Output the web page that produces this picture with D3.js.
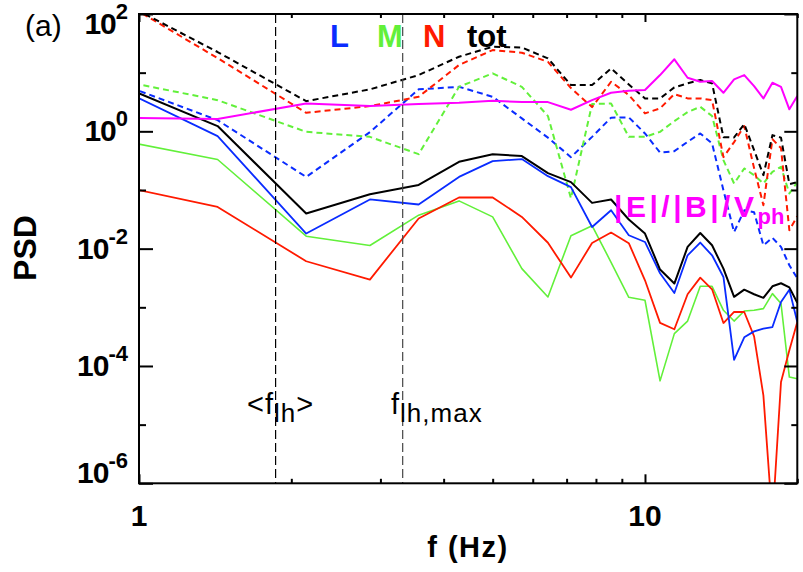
<!DOCTYPE html>
<html>
<head>
<meta charset="utf-8">
<script src="https://cdn.jsdelivr.net/npm/d3@7"></script>
<style>
  body { margin: 0; background: #fff; }
  svg { font-family: 'Liberation Sans', Arial, Helvetica, sans-serif; }
</style>
</head>
<body>
<svg id="chart" width="803" height="572"></svg>
<script>
// frequency grid (Hz)
const freq = [0.714, 1.43, 2.14, 2.86, 3.57, 4.29, 5.0, 5.71, 6.43, 7.14, 7.86, 8.57, 9.29, 10.0,
  10.71, 11.43, 12.14, 12.86, 13.57, 14.29, 15.0, 15.71, 16.43, 17.14, 17.86, 18.57, 19.29, 20.0];

// solid: B-field PSD components
const bL = [14.8, 0.828, 0.0181, 0.0689, 0.0566, 0.167, 0.31, 0.336, 0.172, 0.112, 0.0234, 0.0452, 0.0169, 0.013,
  0.0038, 0.00175, 0.00771, 0.0127, 0.00771, 0.00329, 0.000127, 0.000308, 0.000389, 0.000434, 0.000461, 0.00123, 0.002, 0.000561];
const bM = [1.07, 0.331, 0.0163, 0.0113, 0.0372, 0.0652, 0.0348, 0.00457, 0.0015, 0.0166, 0.0246, 0.00586, 0.00148, 0.00132,
  0.0000557, 0.000356, 0.000583, 0.00228, 0.00228, 0.000889, 0.000583, 0.000865, 0.000889, 0.000951, 0.00171, 0.00116, 0.0000647, 0.0000607];
const bN = [0.184, 0.0515, 0.0061, 0.00297, 0.0327, 0.0745, 0.0745, 0.0348, 0.0126, 0.00321, 0.0125, 0.0188, 0.0124, 0.00289,
  0.000543, 0.000422, 0.00167, 0.00321, 0.00203, 0.00054, 0.000832, 0.000832, 0.00032, 0.0000315, 2.3e-7, 0.0000531, 0.000185, 0.000561];
const bTot = [14.9, 1.23, 0.0397, 0.0848, 0.122, 0.302, 0.408, 0.378, 0.194, 0.136, 0.0603, 0.0689, 0.0314, 0.0181,
  0.0044, 0.00254, 0.0107, 0.0185, 0.0114, 0.00457, 0.00151, 0.002, 0.00167, 0.00145, 0.00228, 0.00257, 0.00219, 0.00119];

// dashed: E-field PSD components
const eL = [14.5, 1.55, 0.167, 0.968, 5.19, 5.74, 3.88, 1.66, 0.78, 0.363, 0.805, 1.71, 1.73, 0.92,
  0.433, 0.459, 0.662, 0.92, 0.622, 0.0993, 0.0191, 0.0452, 0.0418, 0.0114, 0.0153, 0.0107, 0.00521, 0.00313];
const eM = [11.3, 3.4, 0.98, 0.805, 0.408, 5.74, 9.73, 5.74, 1.82, 0.0724, 2.91, 2.99, 0.805, 0.805,
  0.98, 1.49, 2.13, 2.62, 1.82, 0.323, 0.129, 0.233, 0.179, 0.129, 0.204, 0.248, 0.0871, 0.137];
const eN = [617, 17.7, 2.07, 2.69, 3.88, 13.5, 24.3, 21.9, 15.3, 5.46, 2.59, 7.0, 4.15, 2.02,
  2.46, 4.31, 3.64, 3.64, 3.4, 0.363, 0.655, 1.23, 0.236, 0.0551, 0.736, 0.516, 0.0206, 0.0357];
const eTot = [513, 22.5, 3.27, 5.19, 9.1, 18.7, 27.7, 26.8, 17.5, 6.14, 6.14, 11.8, 6.31, 3.64,
  3.64, 5.61, 6.57, 7.48, 6.57, 0.796, 0.787, 1.33, 0.478, 0.179, 0.861, 0.78, 0.126, 0.136];

// |E|/|B|/Vph
const ratio = [1.75, 1.62, 2.99, 2.69, 2.91, 3.06, 3.31, 3.15, 3.15, 2.33, 3.4, 4.54, 4.91, 5.05,
  9.1, 16.9, 8.18, 7.0, 7.19, 4.54, 7.69, 9.1, 5.9, 3.64, 6.73, 5.74, 2.37, 3.99];

const fLh = [1.862, 3.32];
const yMajor = [1e2, 1e0, 1e-2, 1e-4, 1e-6];
const yMinor = [1e1, 1e-1, 1e-3, 1e-5];
const xMajor = [1, 10];
const xMinor = [2, 3, 4, 5, 6, 7, 8, 9, 20];

const colors = { L: '#0a2cff', M: '#62f03a', N: '#ff1a00', tot: '#000', ratio: '#ff00ff' };

const svg = d3.select('#chart');
const pLeft = 139, pRight = 797.3, pTop = 14, pBottom = 483.3;

const x = d3.scaleLog().domain([1, 20]).range([pLeft, pRight]);
const y = d3.scaleLog().domain([1e-6, 1e2]).range([pBottom, pTop]);

svg.append('defs').append('clipPath').attr('id', 'clip')
  .append('rect').attr('x', pLeft).attr('y', pTop).attr('width', pRight - pLeft).attr('height', pBottom - pTop);

const plot = svg.append('g').attr('clip-path', 'url(#clip)');
const line = d3.line().x((d, i) => x(freq[i])).y((d) => y(d));

const series = [
  { v: eL, c: colors.L, dash: true },
  { v: eM, c: colors.M, dash: true },
  { v: eN, c: colors.N, dash: true },
  { v: eTot, c: colors.tot, dash: true },
  { v: bM, c: colors.M, w: 1.6 },
  { v: bN, c: colors.N, w: 1.8 },
  { v: bL, c: colors.L, w: 1.8 },
  { v: bTot, c: colors.tot, w: 2 },
  { v: ratio, c: colors.ratio, w: 2 },
];

plot.selectAll('path.series')
  .data(series)
  .enter()
  .append('path')
  .classed('series', true)
  .attr('d', (d) => line(d.v))
  .attr('fill', 'none')
  .attr('stroke', (d) => d.c)
  .attr('stroke-width', (d) => (d.dash ? 2 : d.w))
  .attr('stroke-dasharray', (d) => (d.dash ? '6,4' : null))
  .attr('stroke-linejoin', 'round');

// vertical markers
plot.selectAll('line.flh')
  .data(fLh)
  .enter()
  .append('line')
  .attr('x1', (d) => x(d)).attr('x2', (d) => x(d))
  .attr('y1', pTop).attr('y2', pBottom)
  .attr('stroke', (d, i) => (i ? '#444' : '#000'))
  .attr('stroke-width', 1.2)
  .attr('stroke-dasharray', '9,4');

// axes with inward ticks
const noLabel = () => '';
function ticks(axis, vals, size, tr) {
  const g = svg.append('g').attr('transform', tr)
    .call(axis.tickValues(vals).tickSize(size).tickFormat(noLabel));
  g.select('.domain').remove();
  g.selectAll('line').attr('stroke', '#000').attr('stroke-width', 2);
}
ticks(d3.axisLeft(y), yMajor, -14, `translate(${pLeft},0)`);
ticks(d3.axisLeft(y), yMinor, -7, `translate(${pLeft},0)`);
ticks(d3.axisRight(y), yMajor, -13, `translate(${pRight},0)`);
ticks(d3.axisRight(y), yMinor, -6, `translate(${pRight},0)`);
ticks(d3.axisBottom(x), xMajor, -9, `translate(0,${pBottom})`);
ticks(d3.axisBottom(x), xMinor, -4.5, `translate(0,${pBottom})`);
ticks(d3.axisTop(x), xMajor, -8, `translate(0,${pTop})`);
ticks(d3.axisTop(x), xMinor, -4, `translate(0,${pTop})`);

svg.append('rect')
  .attr('x', pLeft).attr('y', pTop).attr('width', pRight - pLeft).attr('height', pBottom - pTop)
  .attr('fill', 'none').attr('stroke', '#000').attr('stroke-width', 2);

// y tick labels
const yl = svg.selectAll('text.ylab')
  .data(yMajor)
  .enter()
  .append('text')
  .attr('x', 128)
  .attr('y', (d, i) => y(d) + (i === 0 ? 20 : i === yMajor.length - 1 ? 0 : 10))
  .attr('text-anchor', 'end')
  .attr('font-weight', 'bold')
  .attr('font-size', 30)
  .attr('letter-spacing', -1);
yl.append('tspan').text('10');
yl.append('tspan').attr('dy', -15).attr('font-size', 22).attr('letter-spacing', 0).text((d) => Math.round(Math.log10(d)));

// x tick labels
svg.selectAll('text.xlab')
  .data(xMajor)
  .enter()
  .append('text')
  .attr('x', (d) => x(d))
  .attr('y', 526)
  .attr('text-anchor', 'middle')
  .attr('font-weight', 'bold')
  .attr('font-size', 30)
  .text((d) => d);

svg.append('text')
  .attr('x', 468).attr('y', 557)
  .attr('text-anchor', 'middle')
  .attr('font-weight', 'bold').attr('font-size', 29)
  .attr('letter-spacing', 1.5)
  .text('f (Hz)');

svg.append('text')
  .attr('transform', 'translate(36,248) rotate(-90)')
  .attr('text-anchor', 'middle')
  .attr('font-weight', 'bold').attr('font-size', 32)
  .text('PSD');

svg.append('text')
  .attr('x', 25).attr('y', 36)
  .attr('font-size', 30)
  .text('(a)');

// legend
const legend = [
  { t: 'L', c: colors.L, x: 330 },
  { t: 'M', c: colors.M, x: 377 },
  { t: 'N', c: colors.N, x: 423 },
  { t: 'tot', c: colors.tot, x: 467 },
];
svg.selectAll('text.leg')
  .data(legend)
  .enter()
  .append('text')
  .attr('x', (d) => d.x).attr('y', 47)
  .attr('font-weight', 'bold').attr('font-size', 31)
  .attr('fill', (d) => d.c)
  .text((d) => d.t);

const rl = svg.append('text')
  .attr('x', 614).attr('y', 217)
  .attr('font-weight', 'bold').attr('font-size', 30)
  .attr('fill', colors.ratio)
  .attr('letter-spacing', 3.5);
rl.append('tspan').text('|E|/|B|/V');
rl.append('tspan').attr('dy', 7).attr('font-size', 22).attr('letter-spacing', 0).text('ph');

// f_lh annotations
const ann = [
  { pre: '<f', sub: 'lh', post: '>', x: 247 },
  { pre: 'f', sub: 'lh,max', post: '', x: 391 },
];
const at = svg.selectAll('text.ann')
  .data(ann)
  .enter()
  .append('text')
  .attr('x', (d) => d.x).attr('y', 414)
  .attr('font-size', 29)
  .attr('letter-spacing', 1);
at.append('tspan').text((d) => d.pre);
at.append('tspan').attr('dy', 8).attr('font-size', 26).text((d) => d.sub);
at.append('tspan').attr('dy', -8).text((d) => d.post);
</script>
</body>
</html>
